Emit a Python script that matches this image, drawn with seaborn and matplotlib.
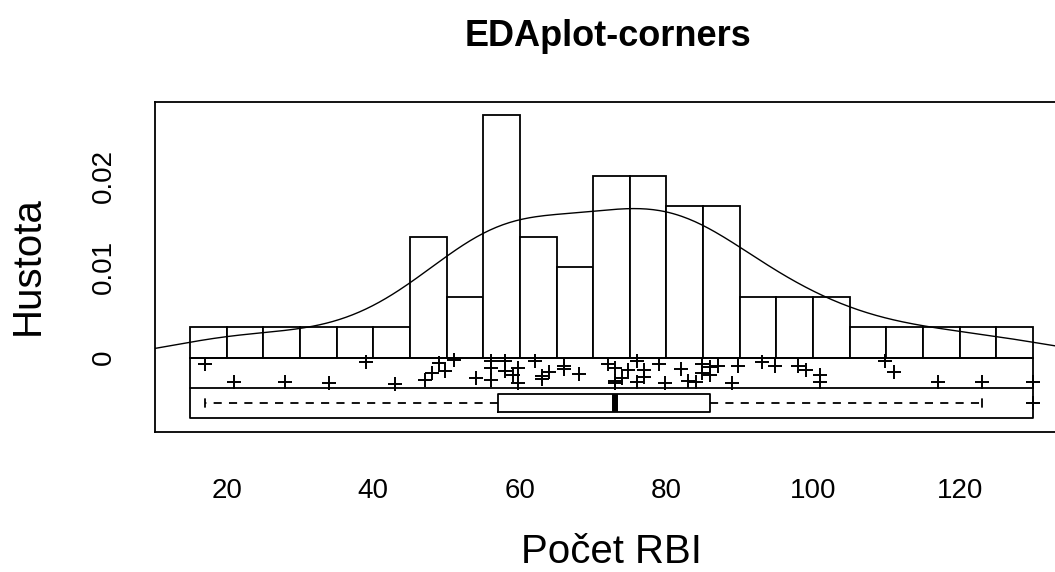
import numpy as np
import matplotlib
matplotlib.use("Agg")
import matplotlib.pyplot as plt
import seaborn as sns

# Runs batted in per player
rbi = [17, 21, 28, 34, 39, 43,
       47, 48, 49, 49.8,
       51, 54,
       56, 56, 56, 58, 58, 59, 59.8, 59.8,
       62, 63, 63, 64,
       66, 66, 68,
       72, 73, 73, 73, 74, 74.8,
       76, 76, 77, 77, 79, 79.8,
       82, 83, 84, 84.8, 84.8,
       86, 86, 87, 89, 89.8,
       93, 94.8,
       98, 99,
       101, 101,
       109.8, 111, 117, 123, 130]

# Vertical position of each point inside the strip (0 = top, 1 = bottom)
strip_pos = [0.22, 0.81, 0.81, 0.83, 0.14, 0.86,
             0.74, 0.50, 0.17, 0.44,
             0.06, 0.68,
             0.11, 0.33, 0.74, 0.11, 0.44, 0.56, 0.33, 0.83,
             0.11, 0.61, 0.70, 0.48,
             0.26, 0.37, 0.53,
             0.20, 0.33, 0.78, 0.83, 0.67, 0.41,
             0.11, 0.80, 0.41, 0.64, 0.22, 0.83,
             0.36, 0.78, 0.80, 0.22, 0.50,
             0.30, 0.56, 0.28, 0.83, 0.26,
             0.14, 0.28,
             0.26, 0.41,
             0.56, 0.81,
             0.11, 0.47, 0.80, 0.80, 0.80]

bin_edges = np.arange(15, 131, 5)
x_ticks = [20, 40, 60, 80, 100, 120]
y_ticks = [0, 0.005, 0.01, 0.015, 0.02, 0.025]
y_tick_labels = ["0", "", "0.01", "", "0.02", ""]

title = "EDAplot-corners"
x_label = "Počet RBI"
y_label = "Hustota"

sns.set_style("white")
plt.rcParams["font.family"] = ["Liberation Sans", "DejaVu Sans"]

W, H = 1055, 572
fig = plt.figure(figsize=(W / 100, H / 100), dpi=100)
left_px, right_px, top_px, bottom_px = 155, 1068, 101.7, 432
ax = fig.add_axes([left_px / W, 1 - bottom_px / H,
                   (right_px - left_px) / W, (bottom_px - top_px) / H])

data = np.asarray(rbi, dtype=float)
n = len(data)
strip = 1.0 / (n * (bin_edges[1] - bin_edges[0]))  # one-count density height

lw = 1.3

# Histogram (density)
sns.histplot(x=data, bins=bin_edges, stat="density", ax=ax,
             color="white", edgecolor="black", linewidth=lw, alpha=1.0,
             zorder=2)

# Kernel density curve, rule-of-thumb bandwidth (Silverman)
sd = data.std(ddof=1)
p25, p75 = np.percentile(data, [25, 75])
bw = 0.9 * min(sd, (p75 - p25) / 1.34) * n ** (-0.2)
sns.kdeplot(x=data, ax=ax, color="black", linewidth=1.0, cut=4,
            bw_method=bw / sd, gridsize=600, zorder=3)

# Frame below the histogram: jittered points strip and boxplot strip
x0, x1 = bin_edges[0], bin_edges[-1]
ax.plot([x0, x1, x1, x0, x0], [0, 0, -2 * strip, -2 * strip, 0],
        color="black", linewidth=lw, zorder=2)
ax.plot([x0, x1], [-strip, -strip], color="black", linewidth=lw, zorder=2)

# Points
pts_y = -np.asarray(strip_pos) * strip
sns.scatterplot(x=data, y=pts_y, ax=ax, marker="+", color="black",
                s=90, linewidth=1.4, zorder=4)

# Boxplot with Tukey hinges
s = np.sort(data)
def _med(v):
    m = len(v)
    return (v[(m - 1) // 2] + v[m // 2]) / 2.0
half = (n + 1) // 2
q1 = _med(s[:half])
q3 = _med(s[n - half:])
med = _med(s)
iqr = q3 - q1
lo_f, hi_f = q1 - 1.5 * iqr, q3 + 1.5 * iqr
whislo = s[s >= lo_f].min()
whishi = s[s <= hi_f].max()
fliers = s[(s < lo_f) | (s > hi_f)]
stats = [dict(med=med, q1=q1, q3=q3, whislo=whislo, whishi=whishi,
              fliers=fliers)]
box_y = -1.5 * strip
ax.bxp(stats, positions=[box_y], widths=0.00202, orientation="horizontal",
       capwidths=0.0009, manage_ticks=False,
       boxprops=dict(color="black", linewidth=lw),
       whiskerprops=dict(color="black", linewidth=lw, linestyle=(0, (4.5, 4))),
       capprops=dict(color="black", linewidth=lw),
       medianprops=dict(color="black", linewidth=4.3, solid_capstyle="butt"),
       flierprops=dict(marker="+", markeredgecolor="black", markersize=10,
                       markeredgewidth=1.4))

ax.set_xlim(10.22, 134.78)
ax.set_ylim(-0.00818, 0.02818)
ax.set_xticks(x_ticks)
ax.set_xticklabels([str(t) for t in x_ticks])
ax.set_yticks(y_ticks)
ax.set_yticklabels(y_tick_labels, rotation=90, va="center")
ax.tick_params(axis="both", direction="out", length=12.2, width=1.2,
               color="black", labelsize=20, labelcolor="black")
ax.tick_params(axis="x", pad=21)
ax.tick_params(axis="y", pad=15)
ax.set_xlabel("")
ax.set_ylabel("")
for sp in ax.spines.values():
    sp.set_visible(True)
    sp.set_color("black")
    sp.set_linewidth(lw)
ax.grid(False)

fig.text(608 / W, 1 - 37 / H, title, ha="center", va="center",
         fontsize=26, fontweight="bold", color="black")
fig.text(611 / W, 1 - 552 / H, x_label, ha="center", va="center",
         fontsize=29, color="black")
fig.text(28 / W, 1 - 266 / H, y_label, ha="center", va="center",
         rotation=90, fontsize=29, color="black")

fig.savefig("out.png", dpi=100, facecolor="white")
